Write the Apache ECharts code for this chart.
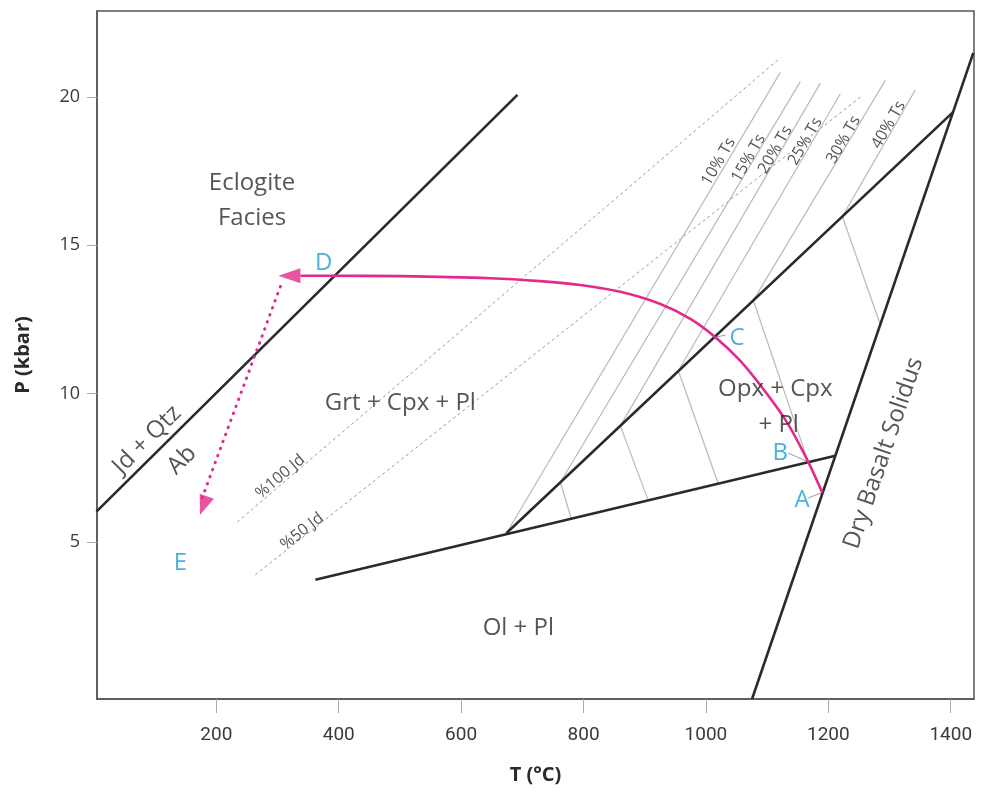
<!DOCTYPE html>
<html>
<head>
<meta charset="utf-8">
<script src="https://cdn.jsdelivr.net/npm/echarts@6/dist/echarts.min.js"></script>
<style>
html,body{margin:0;padding:0;background:#fff;}
#chart{width:992px;height:798px;}
</style>
</head>
<body>
<div id="chart"></div>
<script>
// ---- Data (T in °C, P in kbar) ----
const xTicks = [200, 400, 600, 800, 1000, 1200, 1400];
const yTicks = [5, 10, 15, 20];

const jdQtzAb      = [[4, 6.02], [692, 20.07]];
const olPlBoundary = [[361.8, 3.72], [1211.4, 7.90]];
const opxBoundary  = [[673.9, 5.29], [1404.2, 19.50]];
const drySolidus   = [[1075.3, -0.30], [1436.9, 21.49]];

const jd100 = [[234.3, 5.67], [1121.6, 21.32]];
const jd50  = [[263.7, 3.89], [1252.3, 20.0]];

const ts10 = [[1121.6, 20.83], [673.9, 5.29]];
const ts15 = [[1154.2, 20.52], [762.1, 7.01], [780.1, 5.77]];
const ts20 = [[1186.9, 20.47], [860.1, 8.91], [905.9, 6.39]];
const ts25 = [[1219.6, 20.11], [954.9, 10.77], [1020.3, 6.95]];
const ts30 = [[1293.1, 20.56], [1077.5, 13.14], [1167.3, 7.68]];
const ts40 = [[1342.2, 20.24], [1222.9, 15.97], [1285.0, 12.32]];

const ptPath = [
  [1190.2, 6.66], [1167.3, 7.69], [1133.0, 9.01], [1097.1, 10.06], [1056.2, 11.10],
  [1015.4, 11.90], [974.5, 12.52], [925.5, 13.02], [860.1, 13.43], [794.8, 13.66],
  [729.4, 13.79], [647.7, 13.89], [500.7, 13.96], [386.3, 13.97], [337.3, 13.97]
];
const ptArrowHead = [319.3, 13.97];
const retroPath = [[304.7, 13.61], [176.6, 6.47]];
const retroArrowHead = [178.8, 6.22];

const leaderB = [[1134.8, 7.99], [1167.3, 7.69]];
const leaderA = [[1167.3, 6.48], [1189.7, 6.66]];
const leaderC = [[1015.4, 11.90], [1031.7, 11.97]];

// annotation texts and their anchor positions (T, P, rotation)
const fieldLabels = [
  ['Eclogite\nFacies', 258.3, 16.51, 0],
  ['Grt + Cpx + Pl', 500.7, 9.68, 0],
  ['Jd + Qtz', 86.8, 8.44, 45],
  ['Ab', 144.0, 7.76, 45],
  ['Opx + Cpx', 1113.4, 10.15, 0],
  ['+ Pl', 1118.8, 8.94, 0],
  ['Dry Basalt Solidus', 1290.4, 7.99, 71],
  ['Ol + Pl', 693.5, 2.10, 0]
];
const smallLabels = [
  ['%100 Jd', 304.6, 7.20, 40],
  ['%50 Jd', 340.0, 5.35, 38],
  ['10% Ts', 1020.8, 17.82, 60],
  ['15% Ts', 1069.8, 17.94, 60],
  ['20% Ts', 1113.4, 18.22, 60],
  ['25% Ts', 1162.4, 18.50, 60],
  ['30% Ts', 1225.0, 18.56, 60],
  ['40% Ts', 1298.5, 19.06, 60]
];
const pointLabels = [
  ['A', 1157.0, 6.41],
  ['B', 1121.6, 7.99],
  ['C', 1050.8, 11.87],
  ['D', 375.3, 14.40],
  ['E', 141.2, 4.29]
];

// ---- Styles ----
const FONT = '"Open Sans", "Noto Sans", sans-serif';
const DARK = '#2a2a2a';
const PINK = '#e4288c';
const CYAN = '#1b9dd3';

function lineSeries(data, color, width, type, z) {
  return {
    type: 'line', data: data, symbol: 'none', silent: true, z: z || 2,
    lineStyle: { color: color, width: width, type: type || 'solid' },
    animation: false
  };
}
function textSeries(list, size, color, lh) {
  return {
    type: 'scatter', symbolSize: 0, silent: true, z: 10, animation: false,
    data: list.map(function (d) {
      return {
        value: [d[1], d[2]],
        label: {
          show: true, position: 'inside', formatter: d[0],
          rotate: d[3] || 0, fontSize: size, color: color,
          fontFamily: FONT, lineHeight: lh || Math.round(size * 1.4)
        }
      };
    })
  };
}

const chart = echarts.init(document.getElementById('chart'), null, { renderer: 'canvas' });
chart.setOption({
  backgroundColor: '#ffffff',
  animation: false,
  grid: {
    left: 97, right: 18, top: 11, bottom: 99,
    show: true, borderColor: '#555', borderWidth: 1.5, backgroundColor: 'transparent'
  },
  xAxis: {
    type: 'value', min: 5, max: 1438,
    name: 'T (°C)', nameLocation: 'middle', nameGap: 66,
    nameTextStyle: { fontSize: 20, fontWeight: 'bold', color: DARK, fontFamily: FONT },
    axisLine: { show: true, onZero: false, lineStyle: { color: '#555', width: 1.5 } },
    axisTick: { show: true, customValues: xTicks, length: 14, inside: false, lineStyle: { color: '#aaa', width: 1 } },
    axisLabel: { customValues: xTicks, margin: 27, fontSize: 19, color: '#3a3a3a',
      formatter: function (v) { return String(v); },
      fontFamily: '"Liberation Sans Narrow", Roboto, "Open Sans", sans-serif' },
    splitLine: { show: false }
  },
  yAxis: {
    type: 'value', min: -0.3, max: 22.9,
    name: 'P (kbar)', nameLocation: 'middle', nameGap: 64,
    nameTextStyle: { fontSize: 20, fontWeight: 'bold', color: DARK, fontFamily: FONT },
    axisLine: { show: true, onZero: false, lineStyle: { color: '#555', width: 1.5 } },
    axisTick: { show: true, customValues: yTicks, length: 10, lineStyle: { color: '#aaa', width: 1 } },
    axisLabel: { customValues: yTicks, margin: 17, fontSize: 18, color: '#3a3a3a', fontFamily: FONT },
    splitLine: { show: false }
  },
  series: [
    lineSeries(jd100, '#9a9a9a', 1, [3, 3], 1),
    lineSeries(jd50, '#9a9a9a', 1, [3, 3], 1),
    lineSeries(ts10, '#bdbdbd', 1.3, 'solid', 1),
    lineSeries(ts15, '#bdbdbd', 1.3, 'solid', 1),
    lineSeries(ts20, '#bdbdbd', 1.3, 'solid', 1),
    lineSeries(ts25, '#bdbdbd', 1.3, 'solid', 1),
    lineSeries(ts30, '#bdbdbd', 1.3, 'solid', 1),
    lineSeries(ts40, '#bdbdbd', 1.3, 'solid', 1),
    lineSeries(leaderA, '#9a9a9a', 1, 'solid', 1),
    lineSeries(leaderB, '#9a9a9a', 1, 'solid', 1),
    lineSeries(leaderC, '#9a9a9a', 1, 'solid', 1),
    lineSeries(jdQtzAb, DARK, 2.6, 'solid', 3),
    lineSeries(olPlBoundary, DARK, 2.6, 'solid', 3),
    lineSeries(opxBoundary, DARK, 2.6, 'solid', 3),
    lineSeries(drySolidus, DARK, 2.6, 'solid', 3),
    {
      type: 'line', data: ptPath, symbol: 'none', smooth: 0.25, silent: true, z: 5,
      lineStyle: { color: PINK, width: 2.6 }, animation: false
    },
    {
      type: 'line', data: retroPath, symbol: 'none', silent: true, z: 5,
      lineStyle: { color: PINK, width: 3, type: [0.5, 7], cap: 'round' }, animation: false
    },
    {
      type: 'scatter', silent: true, z: 6, animation: false,
      data: [
        { value: ptArrowHead, symbol: 'triangle', symbolSize: [15, 22], symbolRotate: 90 },
        { value: retroArrowHead, symbol: 'triangle', symbolSize: [15, 20], symbolRotate: 160 }
      ],
      itemStyle: { color: PINK }
    },
    textSeries(fieldLabels, 24, DARK, 35),
    textSeries(smallLabels, 16, DARK),
    textSeries(pointLabels, 24, CYAN)
  ]
});
</script>
</body>
</html>
